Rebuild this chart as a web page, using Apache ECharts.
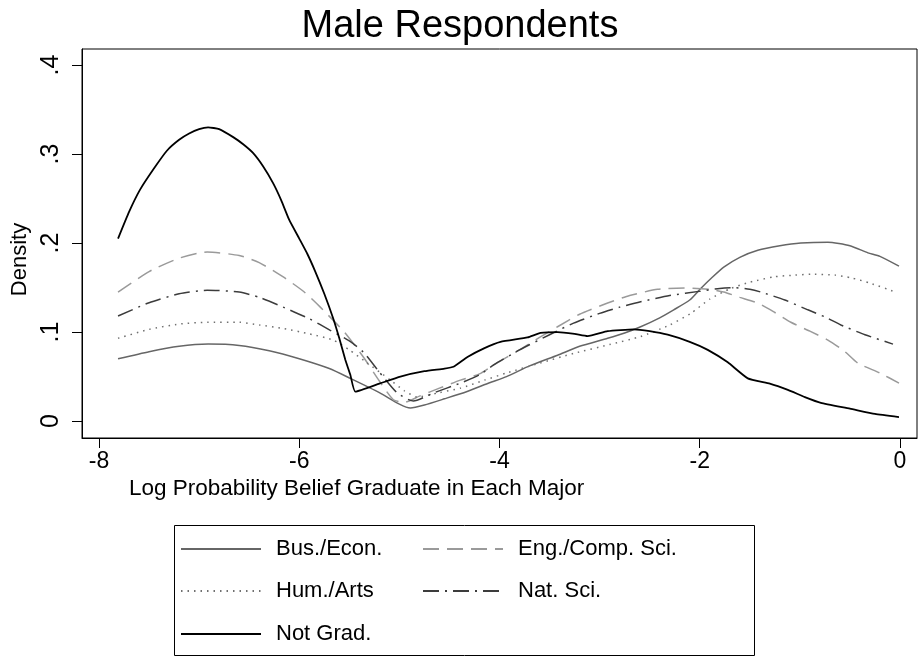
<!DOCTYPE html>
<html>
<head>
<meta charset="utf-8">
<script src="https://cdn.jsdelivr.net/npm/echarts@6/dist/echarts.min.js"></script>
<style>html,body{margin:0;padding:0;background:#fff}#c{width:923px;height:656px}</style>
</head>
<body>
<div id="c"></div>
<script>
// ---- Data ----
var seriesNames = ['Bus./Econ.', 'Eng./Comp. Sci.', 'Hum./Arts', 'Nat. Sci.', 'Not Grad.'];
var xTicks = [-8, -6, -4, -2, 0];
var yTicks = [0, 0.1, 0.2, 0.3, 0.4];

var busEcon = [[-7.81,0.070],[-7.5,0.078],[-7.2,0.084],[-6.91,0.0865],[-6.6,0.085],[-6.3,0.079],[-6.0,0.070],[-5.7,0.059],[-5.49,0.048],[-5.2,0.032],[-5.0,0.019],[-4.89,0.0146],[-4.75,0.018],[-4.55,0.025],[-4.33,0.033],[-4.1,0.043],[-3.93,0.050],[-3.7,0.062],[-3.42,0.074],[-3.2,0.084],[-2.92,0.093],[-2.75,0.099],[-2.59,0.106],[-2.4,0.116],[-2.26,0.125],[-2.1,0.136],[-1.99,0.149],[-1.88,0.161],[-1.76,0.173],[-1.6,0.184],[-1.42,0.192],[-1.2,0.197],[-0.99,0.200],[-0.72,0.201],[-0.5,0.197],[-0.32,0.189],[-0.2,0.185],[-0.01,0.174]];
var engComp = [[-7.81,0.145],[-7.5,0.168],[-7.2,0.183],[-6.92,0.190],[-6.6,0.186],[-6.4,0.178],[-6.16,0.162],[-5.95,0.145],[-5.79,0.128],[-5.55,0.100],[-5.36,0.072],[-5.2,0.045],[-5.06,0.024],[-4.95,0.021],[-4.8,0.028],[-4.6,0.037],[-4.39,0.046],[-4.2,0.053],[-4.06,0.063],[-3.8,0.080],[-3.6,0.094],[-3.42,0.106],[-3.2,0.120],[-2.92,0.1326],[-2.7,0.141],[-2.42,0.148],[-2.12,0.1495],[-1.9,0.148],[-1.76,0.145],[-1.6,0.139],[-1.42,0.1326],[-1.25,0.122],[-1.09,0.111],[-0.9,0.101],[-0.72,0.091],[-0.55,0.078],[-0.42,0.065],[-0.2,0.054],[-0.01,0.0427]];
var humArts = [[-7.81,0.093],[-7.5,0.103],[-7.2,0.109],[-6.92,0.111],[-6.6,0.111],[-6.4,0.108],[-6.16,0.104],[-5.9,0.098],[-5.66,0.091],[-5.5,0.080],[-5.33,0.066],[-5.1,0.047],[-4.95,0.034],[-4.82,0.027],[-4.6,0.032],[-4.39,0.037],[-4.15,0.046],[-3.93,0.054],[-3.6,0.065],[-3.26,0.076],[-2.9,0.086],[-2.59,0.095],[-2.3,0.108],[-2.09,0.121],[-1.9,0.137],[-1.69,0.149],[-1.5,0.156],[-1.26,0.162],[-1.05,0.164],[-0.86,0.165],[-0.65,0.164],[-0.49,0.161],[-0.3,0.155],[-0.07,0.146]];
var natSci = [[-7.81,0.118],[-7.5,0.133],[-7.2,0.143],[-6.92,0.147],[-6.6,0.145],[-6.4,0.139],[-6.16,0.128],[-5.9,0.115],[-5.69,0.102],[-5.5,0.090],[-5.36,0.0775],[-5.2,0.055],[-5.02,0.0315],[-4.86,0.0225],[-4.65,0.032],[-4.39,0.0427],[-4.2,0.052],[-4.06,0.063],[-3.8,0.080],[-3.5,0.097],[-3.26,0.110],[-3.0,0.121],[-2.8,0.128],[-2.59,0.134],[-2.3,0.141],[-1.99,0.146],[-1.8,0.149],[-1.66,0.150],[-1.5,0.148],[-1.39,0.145],[-1.15,0.136],[-0.92,0.125],[-0.75,0.117],[-0.59,0.108],[-0.35,0.097],[-0.07,0.0865]];
var notGrad = [[-7.81,0.205],[-7.7,0.235],[-7.59,0.26],[-7.45,0.284],[-7.32,0.304],[-7.2,0.316],[-7.1,0.323],[-7.0,0.328],[-6.91,0.330],[-6.8,0.328],[-6.66,0.319],[-6.56,0.311],[-6.46,0.301],[-6.36,0.286],[-6.26,0.267],[-6.18,0.248],[-6.1,0.226],[-6.0,0.205],[-5.92,0.188],[-5.84,0.168],[-5.75,0.143],[-5.66,0.115],[-5.6,0.093],[-5.54,0.069],[-5.49,0.052],[-5.44,0.033],[-5.2,0.042],[-4.99,0.050],[-4.75,0.056],[-4.55,0.059],[-4.46,0.061],[-4.32,0.072],[-4.15,0.082],[-3.99,0.089],[-3.72,0.094],[-3.59,0.099],[-3.42,0.100],[-3.25,0.098],[-3.12,0.0955],[-2.92,0.101],[-2.66,0.103],[-2.5,0.101],[-2.32,0.097],[-2.1,0.089],[-1.92,0.080],[-1.72,0.066],[-1.52,0.048],[-1.3,0.042],[-1.12,0.035],[-0.95,0.027],[-0.79,0.0205],[-0.5,0.014],[-0.25,0.008],[-0.01,0.0045]];

var FONT = '"Liberation Sans", Arial, Helvetica, sans-serif';
var chart = echarts.init(document.getElementById('c'), null, {renderer: 'canvas'});

function mk(name, data, color, type, width, smooth) {
  return {
    name: name, type: 'line', data: data, symbol: 'none', showSymbol: false,
    smooth: smooth, animation: false,
    lineStyle: {color: color, type: type, width: width},
    itemStyle: {color: color}
  };
}

function legendItem(name, left, top, pad) {
  return {
    data: [name], orient: 'horizontal', left: left, top: top,
    itemWidth: 80, itemHeight: 14, selectedMode: false, padding: 0,
    itemStyle: {color: 'rgba(0,0,0,0)', borderColor: 'rgba(0,0,0,0)', borderWidth: 0, opacity: 0},
    textStyle: {fontFamily: FONT, fontSize: 22, color: '#000', lineHeight: 30, padding: [0, 0, 0, pad]}
  };
}

var option = {
  backgroundColor: '#fff',
  animation: false,
  title: [
    {text: 'Male Respondents', left: 455, textAlign: 'center', top: 3,
     textStyle: {fontFamily: FONT, fontSize: 38, fontWeight: 'normal', color: '#000'}},
    {text: 'Log Probability Belief Graduate in Each Major', left: 124, top: 472,
     textStyle: {fontFamily: FONT, fontSize: 22.5, fontWeight: 'normal', color: '#000'}}
  ],
  grid: {left: 82, right: 6, top: 49, bottom: 218, show: true, borderColor: '#000', borderWidth: 1, backgroundColor: '#fff'},
  xAxis: {
    type: 'value', min: -8.17, max: 0.17,
    splitLine: {show: false},
    axisLine: {show: true, onZero: false, lineStyle: {color: '#000', width: 1}},
    axisTick: {show: true, length: 10, customValues: xTicks, lineStyle: {color: '#000'}},
    axisLabel: {customValues: xTicks, margin: 12, fontFamily: FONT, fontSize: 23, color: '#000',
      formatter: function (v) { return String(v); }}
  },
  yAxis: {
    type: 'value', min: -0.019, max: 0.418,
    name: 'Density', nameLocation: 'middle', nameGap: 50, nameRotate: 90,
    nameTextStyle: {fontFamily: FONT, fontSize: 22, color: '#000', padding: [0, 32, 0, 0]},
    splitLine: {show: false},
    axisLine: {show: true, onZero: false, lineStyle: {color: '#000', width: 1}},
    axisTick: {show: true, length: 10, customValues: yTicks, lineStyle: {color: '#000'}},
    axisLabel: {customValues: yTicks, rotate: 90, margin: 18, fontFamily: FONT, fontSize: 25, color: '#000',
      formatter: function (v) { return v === 0 ? '0' : String(Math.round(v * 10) / 10).replace(/^0\./, '.'); }}
  },
  legend: [
    legendItem('Bus./Econ.', 180, 534, 10),
    legendItem('Hum./Arts', 180, 576, 10),
    legendItem('Not Grad.', 180, 619, 10),
    legendItem('Eng./Comp. Sci.', 422, 534, 10),
    legendItem('Nat. Sci.', 422, 576, 10)
  ],
  graphic: [
    {type: 'rect', left: 172, top: 523, shape: {width: 580, height: 130}, silent: true,
     style: {fill: 'none', stroke: '#000', lineWidth: 1}}
  ],
  series: [
    mk(seriesNames[0], busEcon, '#666666', 'solid', 1.5, 0.2),
    mk(seriesNames[1], engComp, '#9a9a9a', [16, 8], 1.5, 0.2),
    mk(seriesNames[2], humArts, '#707070', [1.5, 5], 1.5, 0.2),
    mk(seriesNames[3], natSci, '#3c3c3c', [16, 6, 2, 6], 1.5, 0.2),
    mk(seriesNames[4], notGrad, '#000000', 'solid', 1.8, 0.15)
  ]
};
chart.setOption(option);
</script>
</body>
</html>
